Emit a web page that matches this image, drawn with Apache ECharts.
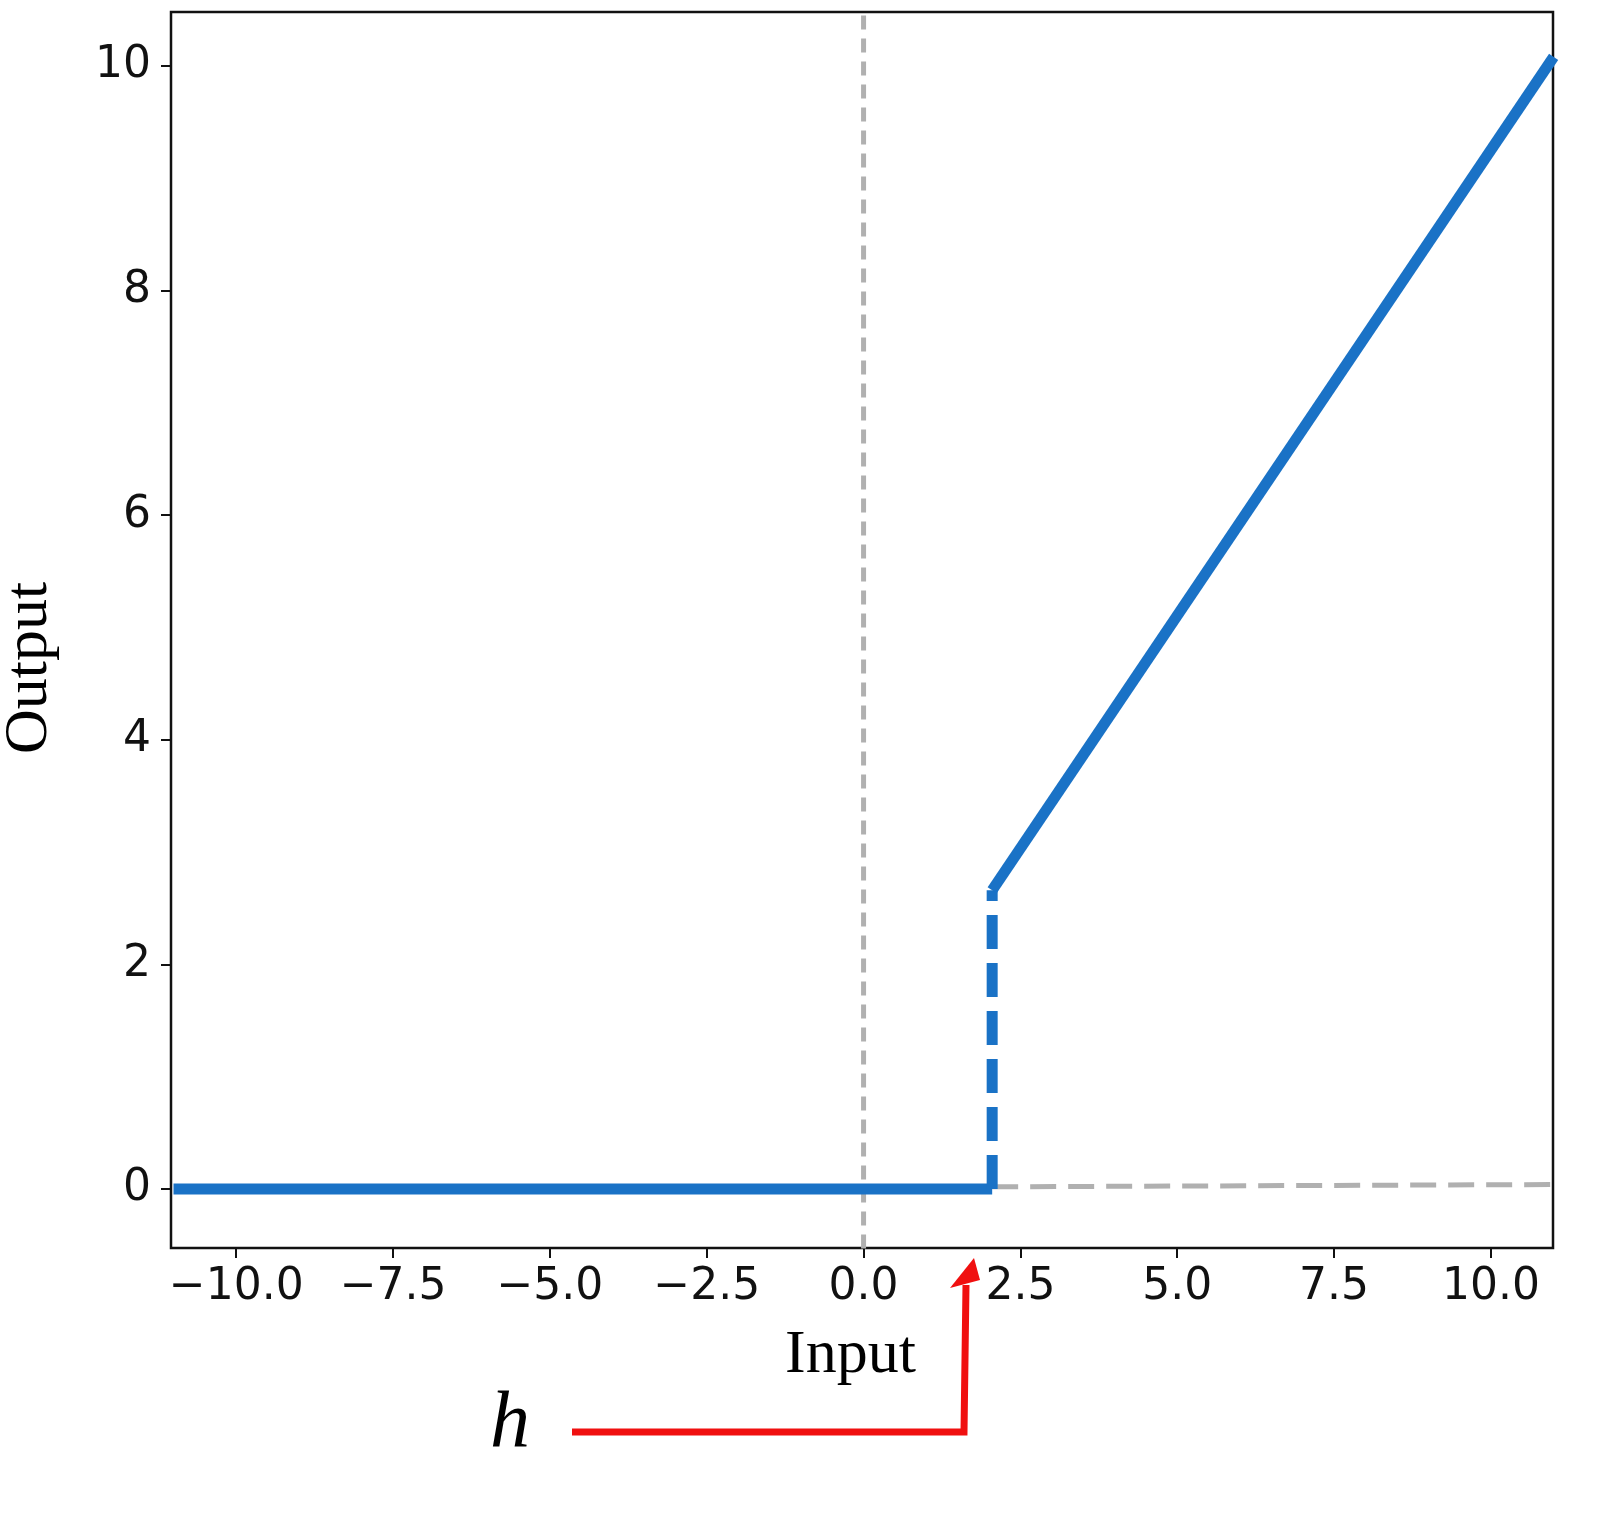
<!DOCTYPE html>
<html><head><meta charset="utf-8">
<script src="https://cdn.jsdelivr.net/npm/echarts@6/dist/echarts.min.js"></script>
<style>html,body{margin:0;padding:0;background:#fff}#c{width:1620px;height:1514px}</style>
</head><body><div id="c"></div>
<script>
const xTicks = [-10, -7.5, -5, -2.5, 0, 2.5, 5, 7.5, 10];
const yTicks = [0, 2, 4, 6, 8, 10];
const h = 2.05;
const lowPart = [[-11, 0], [h, 0]];
const jumpPart = [[h, 0], [h, 2.66]];
const highPart = [[h, 2.66], [11, 10.08]];
const refV = [[0, -0.53], [0, 10.5]];
const refH = [[h, 0.02], [11, 0.04]];

const chart = echarts.init(document.getElementById('c'));
const blue = '#1a72c6', grey = '#b0b0b0';
chart.setOption({
  animation: false,
  grid: {left: 171, top: 12, width: 1382, height: 1236, show: true, borderColor: '#111', borderWidth: 2.5, backgroundColor: '#fff'},
  xAxis: {type: 'value', min: -11.04, max: 10.99, splitLine: {show: false},
    axisLine: {show: false, onZero: false},
    axisTick: {show: true, inside: false, length: 10, lineStyle: {color: '#111', width: 2}, customValues: xTicks},
    axisLabel: {customValues: xTicks, fontFamily: 'DejaVu Sans', fontSize: 44, color: '#111', margin: 18,
      formatter: v => v.toFixed(1).replace('-', '−')}},
  yAxis: {type: 'value', min: -0.525, max: 10.48, splitLine: {show: false},
    axisLine: {show: false, onZero: false},
    axisTick: {show: true, length: 10, lineStyle: {color: '#111', width: 2}, customValues: yTicks},
    axisLabel: {customValues: yTicks, fontFamily: 'DejaVu Sans', fontSize: 44, color: '#111', margin: 20}},
  series: [
    {type: 'line', data: refV, symbol: 'none', lineStyle: {color: grey, width: 5, type: [14, 9]}},
    {type: 'line', data: refH, symbol: 'none', lineStyle: {color: grey, width: 5, type: [26, 12]}},
    {type: 'line', data: lowPart, symbol: 'none', lineStyle: {color: blue, width: 11}},
    {type: 'line', data: jumpPart, symbol: 'none', lineStyle: {color: blue, width: 11, type: [34, 14]}},
    {type: 'line', data: highPart, symbol: 'none', lineStyle: {color: blue, width: 11}}
  ],
  graphic: [
    {type: 'text', left: 785, top: 1325, style: {text: 'Input', font: '62px "Liberation Serif"', fill: '#000'}},
    {type: 'text', x: 30, y: 668, rotation: Math.PI / 2, style: {text: 'Output', font: '62px "Liberation Serif"', fill: '#000', align: 'center', verticalAlign: 'middle'}},
    {type: 'text', left: 490, top: 1385, style: {text: 'h', font: 'italic 80px "Liberation Serif"', fill: '#000'}},
    {type: 'polyline', shape: {points: [[572, 1432], [964, 1432], [966, 1285]]}, style: {stroke: '#f01010', lineWidth: 7, fill: null}},
    {type: 'polygon', shape: {points: [[950, 1288], [980, 1280], [974, 1258]]}, style: {fill: '#f01010'}}
  ]
});
</script></body></html>
